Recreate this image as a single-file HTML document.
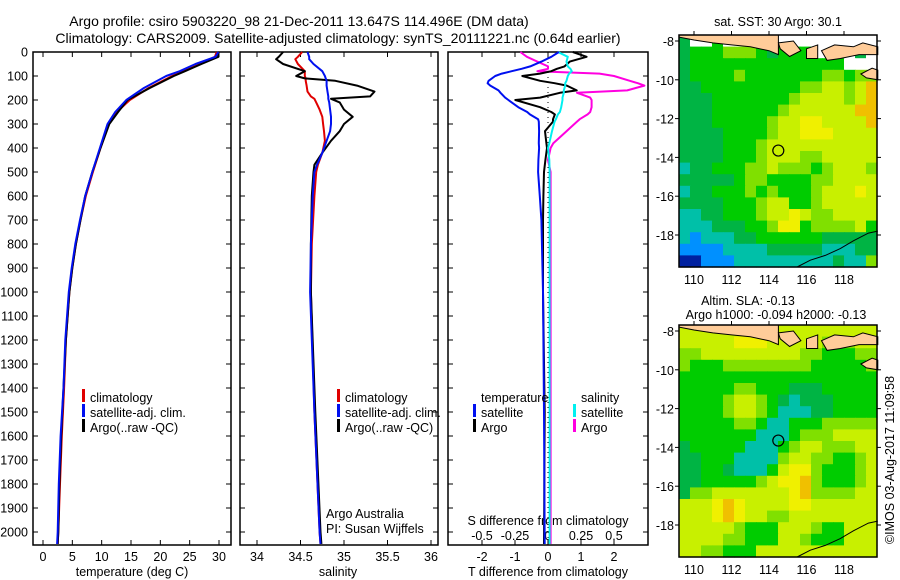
<!DOCTYPE html>
<html><head><meta charset="utf-8"><style>
html,body{margin:0;padding:0;background:#fff;}
svg{display:block;font-family:"Liberation Sans",sans-serif;}
</style></head><body>
<svg id="fig" width="900" height="580" viewBox="0 0 900 580" xmlns="http://www.w3.org/2000/svg">
<text x="299" y="26" font-size="14" text-anchor="middle">Argo profile: csiro 5903220_98 21-Dec-2011 13.647S 114.496E (DM data)</text>
<text x="338" y="43" font-size="14" text-anchor="middle">Climatology: CARS2009. Satellite-adjusted climatology: synTS_20111221.nc (0.64d earlier)</text>
<g id="g"></g>
</svg>
<script>
// ---------- data ----------
const tempDepth=[0,20,50,80,100,150,200,250,300,400,500,600,700,800,900,1000,1200,1400,1600,1800,2000,2050];
const tempClim=[29.6,29.3,26.8,24.0,22.0,18.0,14.8,12.6,11.2,9.8,8.5,7.3,6.4,5.6,5.0,4.5,3.9,3.6,3.2,2.9,2.6,2.5];
const tempSat=[29.9,29.4,26.0,23.3,21.0,17.2,14.2,12.3,11.0,9.7,8.4,7.2,6.3,5.5,4.9,4.4,3.8,3.5,3.0,2.7,2.5,2.4];
const tempArgo=[29.8,29.9,27.0,24.2,22.3,18.2,14.4,12.8,11.3,9.8,8.4,7.2,6.4,5.6,5.0,4.5,3.9,3.5,3.1,2.8,2.6,2.5];
const salDepth=[0,20,30,50,80,100,110,120,140,165,185,195,210,240,270,300,330,370,420,470,500,600,800,1000,1500,2000,2050];
const salClim=[34.52,34.47,34.44,34.47,34.55,34.55,34.56,34.56,34.57,34.58,34.62,34.66,34.68,34.72,34.75,34.76,34.77,34.78,34.75,34.7,34.68,34.66,34.63,34.62,34.66,34.72,34.73];
const salSat=[34.58,34.6,34.6,34.65,34.75,34.78,34.79,34.8,34.8,34.81,34.82,34.82,34.83,34.84,34.85,34.85,34.84,34.8,34.75,34.69,34.66,34.64,34.62,34.61,34.66,34.72,34.73];
const salArgo=[34.3,34.25,34.22,34.3,34.55,34.45,34.55,34.9,35.15,35.35,35.3,34.85,34.95,35.0,35.1,35.0,34.95,34.85,34.75,34.66,34.65,34.63,34.62,34.62,34.67,34.73,34.74];
const diffDepth=[0,20,40,60,70,80,90,100,120,130,140,160,170,190,200,230,250,260,280,290,330,380,400,450,500,600,700,1000,1500,2050];
const dTsat=[0.33,0.1,-0.2,-0.54,-0.8,-1.1,-1.4,-1.6,-1.8,-1.83,-1.75,-1.5,-1.44,-1.3,-1.2,-0.9,-0.63,-0.55,-0.3,-0.28,-0.27,-0.28,-0.27,-0.29,-0.3,-0.25,-0.2,-0.15,-0.12,-0.1];
const dTargo=[0.75,1.17,0.66,0.5,0.27,0.1,-0.24,-0.78,-0.24,0.2,0.57,0.87,0.36,-0.24,-0.99,-0.24,0.1,0.21,0.15,0.15,-0.09,-0.05,-0.03,-0.08,-0.12,-0.14,-0.15,-0.15,-0.1,-0.12];
const dSsat=[0.075,0.15,0.14,0.15,0.17,0.18,0.16,0.15,0.14,0.13,0.13,0.12,0.12,0.11,0.11,0.1,0.09,0.075,0.06,0.05,0.03,0.01,0.0,0.01,0.012,0.012,0.012,0.012,0.012,0.012];
const dSargo=[-0.21,-0.16,-0.08,0.0,0.0,-0.08,0.39,0.5,0.62,0.68,0.73,0.6,0.22,0.32,0.33,0.33,0.32,0.3,0.24,0.22,0.14,0.04,0.02,0.0,0.02,0.02,0.02,0.02,0.02,0.02];
const depthTicks=[0,100,200,300,400,500,600,700,800,900,1000,1100,1200,1300,1400,1500,1600,1700,1800,1900,2000];
const tempTicks=[0,5,10,15,20,25,30];
const salTicks=[34,34.5,35,35.5,36];
const tdTicks=[-2,-1,0,1,2];
const sdTicks=[-0.5,-0.25,0,0.25,0.5];
const sdTickLabels=['-0.5','-0.25','0','0.25','0.5'];
const lonTicks=[110,112,114,116,118];
const latTicks=[-8,-10,-12,-14,-16,-18];
const argoLon=114.496, argoLat=-13.647;
const mapPalette=['#0020a0','#0090ff','#00c0a8','#00b444','#00cc00','#80e000','#c8f000','#f0f000','#f0c000'];
const sstGrid=["3WW4WWW33WWWWWWWWW","344455543444WWWW3W","344444444444444WWW","344445444444455455","334444444445566568","333444444456666568","333444444566666688","333444445667766668","333344445667776666","333344456666666666","333344456665566666","233444556555456665","333334554444556666","233444545444566676","333344456644566666","223344456676556666","222333445774555564","212223344444433333","111122223333322233","001112222222223225"];
const slaGrid=["666666766666666666","666667776666655566","556666666665544455","544455555555444445","444444444444444444","444445544433344444","444456654323334444","444456654222334444","444445542244455555","444444422245556666","344444222456655566","334442222566554456","334432224677544456","334444456778544456","355666666678555566","666787666677666666","666787665566666666","666665444666544666","666655444665444666","665544466666666666"];
const javaLand=[[109.2,-7.69],[109.2,-7.8],[110,-7.95],[111,-8.1],[112,-8.2],[113,-8.3],[114,-8.5],[114.5,-8.7],[114.5,-7.69]];
const baliLand=[[114.5,-8.1],[115.3,-8.0],[115.7,-8.5],[115.1,-8.8],[114.6,-8.4]];
const lombokLand=[[116.0,-8.4],[116.6,-8.2],[116.6,-8.9],[116.0,-8.9]];
const sumbawaLand=[[116.8,-8.5],[117.5,-8.2],[118.5,-8.3],[119.0,-8.1],[119.8,-8.3],[119.8,-8.7],[118.8,-8.7],[117.8,-8.9],[117.1,-9.0]];
const sumbaLand=[[118.9,-9.7],[119.5,-9.4],[119.8,-9.5],[119.8,-10.0],[119.2,-9.9]];
const contourLine=[[115.5,-19.65],[116.2,-19.3],[117,-19.05],[117.8,-18.7],[118.5,-18.3],[119.3,-17.9],[119.8,-17.8]];

// ---------- helpers ----------
const NS='http://www.w3.org/2000/svg';
const G=document.getElementById('g');
function mk(tag,at,parent){const e=document.createElementNS(NS,tag);for(const k in at)e.setAttribute(k,at[k]);(parent||G).appendChild(e);return e;}
const yTop=52,yBot=545;
function dy(d){return yTop+d*0.24;}
function lin(d0,d1,r0,r1){return v=>r0+(v-d0)*(r1-r0)/(d1-d0);}
const tx=lin(0,30,43,219), sx=lin(34,36,257,431), tdx=lin(0,2,548,614), sdx=lin(0,0.5,548,614);

function frame(x0,x1,name){
  const r=mk('rect',{x:x0,y:yTop,width:x1-x0,height:yBot-yTop,fill:'none',stroke:'#000','stroke-width':1.5});
  
  
}
function depthAxis(x0,x1,labels){
  depthTicks.forEach(d=>{
    const y=dy(d);
    const t1=mk('line',{x1:x0,y1:y,x2:x0+5,y2:y,stroke:'#000'});
    
    
    const t2=mk('line',{x1:x1-5,y1:y,x2:x1,y2:y,stroke:'#000'});
    
    
    if(labels){const t=mk('text',{x:28,y:y+4.5,'font-size':12.5,'text-anchor':'end'});t.textContent=d;
      
      }
  });
}
function xAxis(ticks,fx,labs,name,topToo){
  ticks.forEach((v,i)=>{
    const x=fx(v);
    const l=mk('line',{x1:x,y1:yBot,x2:x,y2:yBot-5,stroke:'#000'});
    
    
    if(topToo){const l2=mk('line',{x1:x,y1:yTop,x2:x,y2:yTop+5,stroke:'#000'});
      
      }
    const t=mk('text',{x:x,y:yBot+16,'font-size':12.5,'text-anchor':'middle'});t.textContent=labs?labs[i]:v;
    
    
  });
}
function series(depths,vals,fx,color,name,w){
  const pts=depths.map((d,i)=>fx(vals[i]).toFixed(1)+','+dy(d).toFixed(1)).join(' ');
  const p=mk('polyline',{points:pts,fill:'none',stroke:color,'stroke-width':w||2,'stroke-linejoin':'round'});
  
  
}
function txt(x,y,s,name,size,anchor){
  const t=mk('text',{x:x,y:y,'font-size':size||12.5,'text-anchor':anchor||'start'});t.textContent=s;
  
  
  return t;
}
function mark(x,y,color,name){
  const r=mk('rect',{x:x,y:y-11,width:3,height:13,fill:color});
  
  
}

// ---------- panel 1: temperature ----------
frame(33,231,'temperature-panel');
depthAxis(33,231,true);
xAxis(tempTicks,tx,null,'temperature-axis',true);
series(tempDepth,tempClim,tx,'#e00000','temperature-climatology-line');
series(tempDepth,tempArgo,tx,'#000','temperature-argo-line');
series(tempDepth,tempSat,tx,'#0010f0','temperature-satellite-line');
txt(132,576,'temperature (deg C)','temperature-axis-title',12.5,'middle');
mark(82,400,'#e00000','legend-climatology-mark');txt(90,402,'climatology','legend-climatology');
mark(82,415,'#0010f0','legend-satellite-mark');txt(90,417,'satellite-adj. clim.','legend-satellite');
mark(82,430,'#000','legend-argo-mark');txt(90,432,'Argo(..raw -QC)','legend-argo');

// ---------- panel 2: salinity ----------
frame(240,438,'salinity-panel');
depthAxis(240,438,false);
xAxis(salTicks,sx,null,'salinity-axis',true);
series(salDepth,salClim,sx,'#e00000','salinity-climatology-line');
series(salDepth,salArgo,sx,'#000','salinity-argo-line');
series(salDepth,salSat,sx,'#0010f0','salinity-satellite-line');
txt(338,576,'salinity','salinity-axis-title',12.5,'middle');
mark(337,400,'#e00000','legend-climatology-mark-2');txt(345,402,'climatology','legend-climatology-2');
mark(337,415,'#0010f0','legend-satellite-mark-2');txt(345,417,'satellite-adj. clim.','legend-satellite-2');
mark(337,430,'#000','legend-argo-mark-2');txt(345,432,'Argo(..raw -QC)','legend-argo-2');
txt(326,518,'Argo Australia','argo-australia-label');
txt(326,533,'PI: Susan Wijffels','pi-label');

// ---------- panel 3: differences ----------
frame(448,648,'difference-panel');
depthAxis(448,648,false);
xAxis(tdTicks,tdx,null,'t-difference-axis',false);
sdTicks.forEach(v=>{const x=sdx(v);const l=mk('line',{x1:x,y1:yTop,x2:x,y2:yTop+5,stroke:'#000'});
  
  });
sdTicks.forEach((v,i)=>txt(sdx(v),540,sdTickLabels[i],'s-difference-tick-label',12.5,'middle'));
txt(548,525,'S difference from climatology','s-difference-axis-title',12.5,'middle');
txt(548,576,'T difference from climatology','t-difference-axis-title',12.5,'middle');
const zl=mk('line',{x1:tdx(0),y1:yTop,x2:tdx(0),y2:yBot,stroke:'#000','stroke-dasharray':'1,4'});


series(diffDepth,dSargo,sdx,'#ff00e0','s-difference-argo-line');
series(diffDepth,dTargo,tdx,'#000','t-difference-argo-line');
series(diffDepth,dSsat,sdx,'#00f0f0','s-difference-satellite-line');
series(diffDepth,dTsat,tdx,'#0010f0','t-difference-satellite-line');
txt(481,402,'temperature','legend-temperature-heading');
mark(473,415,'#0010f0','legend-t-satellite-mark');txt(481,417,'satellite','legend-t-satellite');
mark(473,430,'#000','legend-t-argo-mark');txt(481,432,'Argo','legend-t-argo');
txt(581,402,'salinity','legend-salinity-heading');
mark(573,415,'#00f0f0','legend-s-satellite-mark');txt(581,417,'satellite','legend-s-satellite');
mark(573,430,'#ff00e0','legend-s-argo-mark');txt(581,432,'Argo','legend-s-argo');

// ---------- maps ----------
function drawMap(top,grid,name){
  const L=679,R=877,B=top+232;
  const lx=lon=>694+(lon-110)*18.75, ly=lat=>top+6+(-8-lat)*19.4;
  const g=mk('g',{});
  
  
  const rows=grid.length, cols=18, cw=(R-L)/cols, ch=(B-top)/rows;
  grid.forEach((row,r)=>{for(let c=0;c<cols;c++){const k=row[c]||row[row.length-1];
    const col=k==='W'?'#fff':mapPalette[+k];
    const cell=mk('rect',{x:(L+c*cw).toFixed(2),y:(top+r*ch).toFixed(2),width:(cw+0.6).toFixed(2),height:(ch+0.6).toFixed(2),fill:col},g);
    
    }});
  [javaLand,baliLand,lombokLand,sumbawaLand,sumbaLand].forEach(poly=>{
    const p=mk('polygon',{points:poly.map(q=>lx(q[0]).toFixed(1)+','+ly(q[1]).toFixed(1)).join(' '),fill:'#ffcc99',stroke:'#000','stroke-width':1},g);
    
    });
  const cl=mk('polyline',{points:contourLine.map(q=>lx(q[0]).toFixed(1)+','+ly(q[1]).toFixed(1)).join(' '),fill:'none',stroke:'#000','stroke-width':1},g);
  
  
  const fr=mk('rect',{x:L,y:top,width:R-L,height:B-top,fill:'none',stroke:'#000','stroke-width':1.5},g);
  
  
  const ci=mk('circle',{cx:lx(argoLon),cy:ly(argoLat),r:5.5,fill:'none',stroke:'#000','stroke-width':1.2},g);
  
  
  lonTicks.forEach(v=>{const x=lx(v);
    const a=mk('line',{x1:x,y1:top,x2:x,y2:top-4,stroke:'#000'},g);
    
    
    txt(x,B+17,String(v),'lon-tick-label',12.5,'middle');});
  latTicks.forEach(v=>{const y=ly(v);
    const a=mk('line',{x1:L,y1:y,x2:L-4,y2:y,stroke:'#000'},g);
    
    
    const a2=mk('line',{x1:R,y1:y,x2:R+4,y2:y,stroke:'#000'},g);
    
    
    txt(674,y+5,String(v),'lat-tick-label',12.5,'end');});
}
drawMap(35,sstGrid,'sst-map');
drawMap(325,slaGrid,'sla-map');
txt(778,26,'sat. SST: 30 Argo: 30.1','sst-map-title',12.5,'middle');
txt(748,305,'Altim. SLA: -0.13','sla-map-title',12.5,'middle');
txt(776,319,'Argo h1000: -0.094 h2000: -0.13','sla-map-subtitle',12.5,'middle');
const cr=txt(0,0,'©IMOS 03-Aug-2017 11:09:58','imos-credit',12.5,'middle');
cr.setAttribute('transform','translate(894,460) rotate(-90)');
</script>
</body></html>
